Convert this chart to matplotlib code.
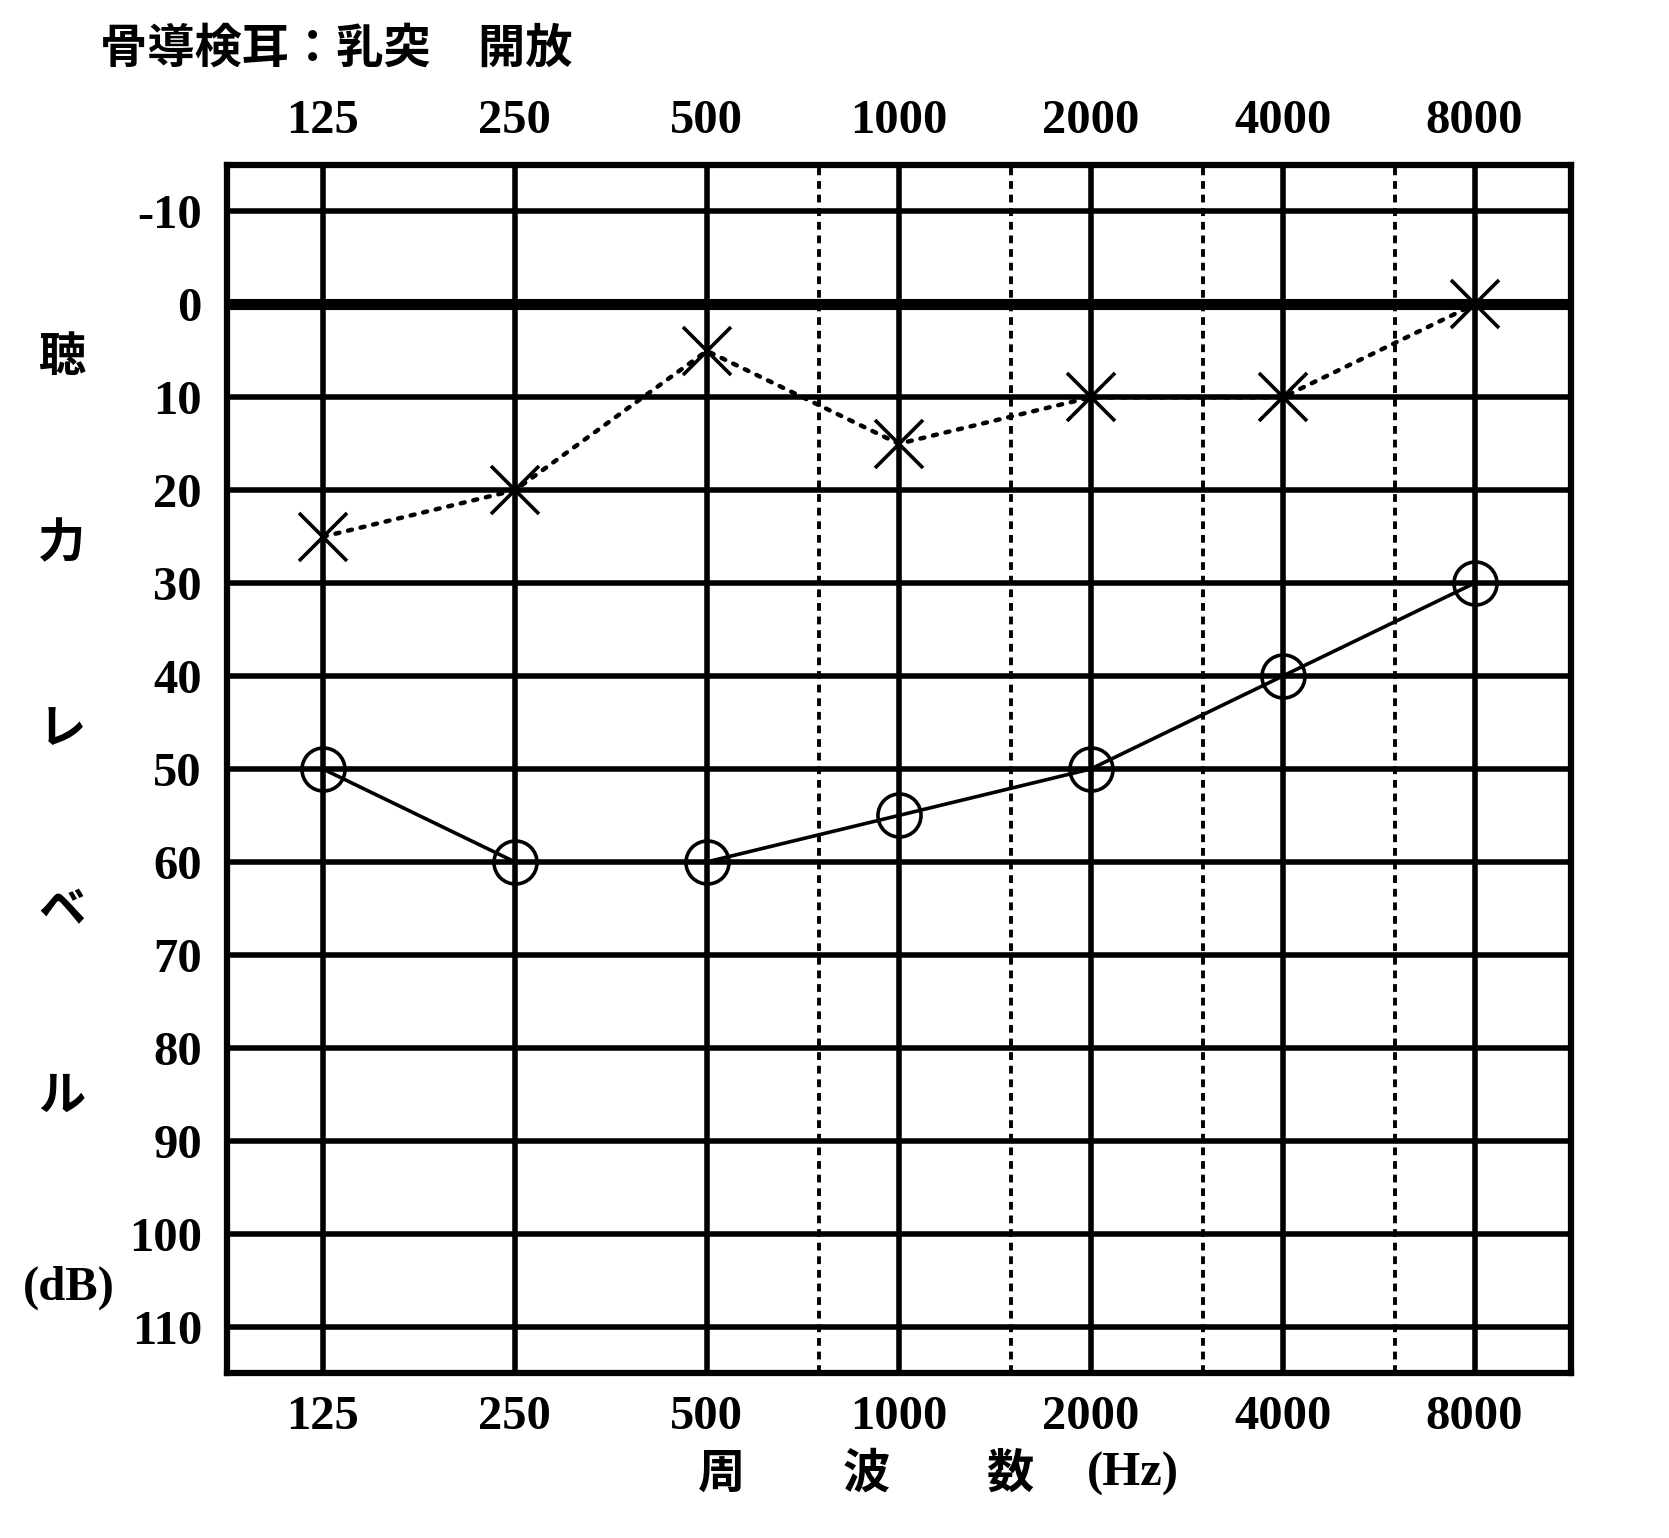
import numpy as np
import matplotlib.pyplot as plt

# --- Data ---
FREQS = [125, 250, 500, 1000, 2000, 4000, 8000]
FREQ_LABELS = ['125', '250', '500', '1000', '2000', '4000', '8000']
HALF_OCTAVES = [750, 1500, 3000, 6000]
X_SERIES = [25, 20, 5, 15, 10, 10, 0]      # x marks, dotted
O_SERIES = [50, 60, 60, 55, 50, 40, 30]    # circles, solid
DB_TICKS = [-10, 0, 10, 20, 30, 40, 50, 60, 70, 80, 90, 100, 110]
YLABEL_CHARS = ['聴', '力', 'レ', 'ベ', 'ル']

NUM_FONT = dict(family='Liberation Serif', weight='bold', size=35)
JP_FONT = ['Noto Sans CJK JP', 'DejaVu Sans']


def octave(f):
    return np.log2(np.asarray(f, dtype=float) / 125.0)


fig = plt.figure(figsize=(16.69, 15.38), dpi=100)
ax = fig.add_axes([0.136, 0.1073, 0.805, 0.7854])

# grid
for d in DB_TICKS:
    ax.axhline(d, color='black', lw=8 if d == 0 else 4, zorder=1)
for x in octave(FREQS):
    ax.axvline(x, color='black', lw=4, zorder=1)
for x in octave(HALF_OCTAVES):
    ax.axvline(x, color='black', lw=2.8, ls=(0, (2, 1.5)), zorder=1)

# series
ax.plot(octave(FREQS), X_SERIES, color='black', lw=3.2, ls=(0, (0.9, 2)),
        dash_capstyle='round', marker='x', ms=34, mew=2.6, zorder=3)
ax.plot(octave(FREQS), O_SERIES, color='black', lw=2.6, ls='-',
        marker='o', ms=31, mfc='none', mew=2.6, zorder=3)

ax.set_xlim(-0.5, 6.5)
ax.set_ylim(115, -15)

ax.set_xticks(octave(FREQS))
ax.set_xticklabels(FREQ_LABELS, fontdict=NUM_FONT)
ax.set_yticks(DB_TICKS)
ax.set_yticklabels([str(d) for d in DB_TICKS], fontdict=NUM_FONT)
ax.tick_params(axis='x', length=0, pad=16, top=True, labeltop=True)
ax.tick_params(axis='y', length=0, pad=18)

for s in ax.spines.values():
    s.set_linewidth(4.5)

# texts
fig.text(0.06, 0.968, '骨導検耳：乳突　開放', family=JP_FONT, weight='bold',
         fontsize=34, ha='left', va='center')
ylab_y = [357, 543, 729, 910, 1096]
for ch, yp in zip(YLABEL_CHARS, ylab_y):
    fig.text(62 / 1669, 1 - yp / 1538, ch, family=JP_FONT, weight='bold',
             fontsize=34, ha='center', va='center')
fig.text(69 / 1669, 1 - 1288 / 1538, '(dB)', fontdict=NUM_FONT,
         ha='center', va='center')

xlab = [('周', 722), ('波', 866), ('数', 1010), ('(Hz)', 1133)]
for t, xp in xlab:
    if t == '(Hz)':
        fig.text(xp / 1669, 1 - 1474 / 1538, t, fontdict=NUM_FONT,
                 ha='center', va='center')
    else:
        fig.text(xp / 1669, 1 - 1474 / 1538, t, family=JP_FONT, weight='bold',
                 fontsize=34, ha='center', va='center')

fig.savefig('out.png', dpi=100)
